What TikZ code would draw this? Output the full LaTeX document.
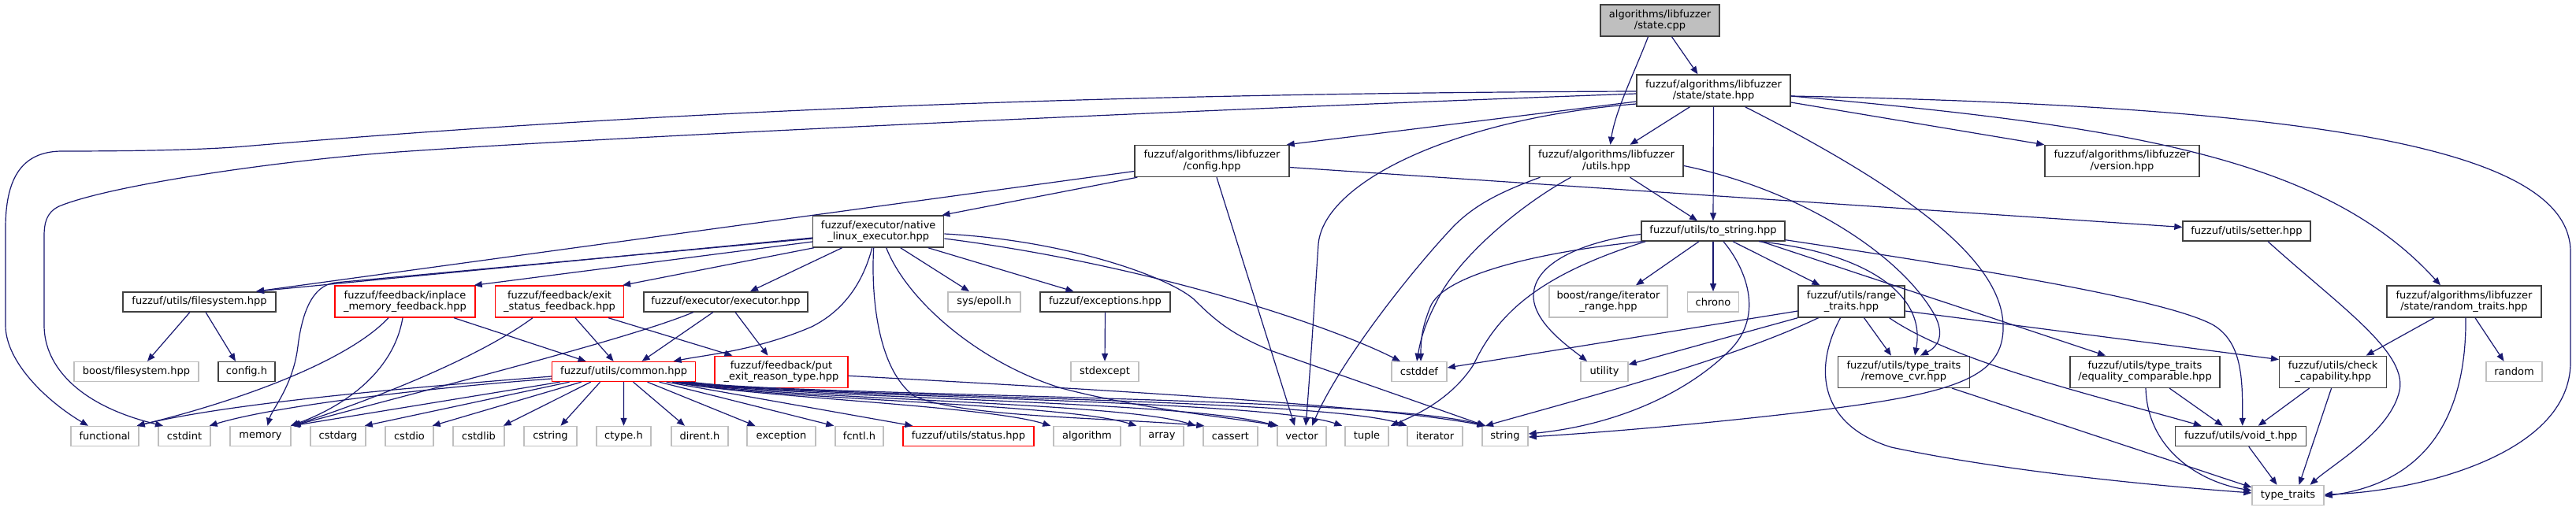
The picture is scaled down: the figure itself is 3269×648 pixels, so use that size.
\documentclass[tikz,border=0pt]{standalone}
\usepackage{fontspec}
\setmainfont{DejaVu Sans}
\usetikzlibrary{arrows.meta}
\definecolor{edgec}{HTML}{191970}
\definecolor{docc}{HTML}{404040}
\definecolor{extc}{HTML}{BFBFBF}
\definecolor{rootf}{HTML}{BFBFBF}
\begin{document}
\begin{tikzpicture}[x=1pt,y=-1pt,
  box/.style={draw, line width=1.4pt, inner sep=0pt, align=center, font=\fontsize{13}{14.5}\selectfont},
  doc/.style={box, draw=docc},
  ext/.style={box, draw=extc},
  trn/.style={box, draw=red},
  root/.style={box, draw=docc, fill=rootf},
  ln/.style={draw=edgec, line width=1.2pt, -{Triangle[length=10pt,width=8pt]}}]
\useasboundingbox (0,0) rectangle (3269,648);
% row 0-1
\node[root, minimum width=151, minimum height=40] (cpp) at (2106.5,26) {algorithms/libfuzzer\\/state.cpp};
\node[doc, minimum width=195, minimum height=40] (st) at (2174.5,115) {fuzzuf/algorithms/libfuzzer\\/state/state.hpp};
% row 2
\node[doc, minimum width=196, minimum height=40] (cfg) at (1538,204.5) {fuzzuf/algorithms/libfuzzer\\/config.hpp};
\node[doc, minimum width=195, minimum height=40] (ut) at (2038.5,204.5) {fuzzuf/algorithms/libfuzzer\\/utils.hpp};
\node[doc, minimum width=196, minimum height=40] (ver) at (2693,204.5) {fuzzuf/algorithms/libfuzzer\\/version.hpp};
% row 3
\node[doc, minimum width=166, minimum height=40] (nle) at (1114.7,294) {fuzzuf/executor/native\\\_linux\_executor.hpp};
\node[doc, minimum width=182, minimum height=25] (ts) at (2174,293.5) {fuzzuf/utils/to\_string.hpp};
\node[doc, minimum width=162, minimum height=25] (set) at (2851,293.5) {fuzzuf/utils/setter.hpp};
% row 4
\node[doc, minimum width=194, minimum height=25] (fs) at (253,383.3) {fuzzuf/utils/filesystem.hpp};
\node[trn, minimum width=178, minimum height=40] (inp) at (514,383) {fuzzuf/feedback/inplace\\\_memory\_feedback.hpp};
\node[trn, minimum width=163, minimum height=40] (exs) at (710,383) {fuzzuf/feedback/exit\\\_status\_feedback.hpp};
\node[doc, minimum width=208, minimum height=25] (exe) at (921,383.3) {fuzzuf/executor/executor.hpp};
\node[ext, minimum width=92, minimum height=25] (epl) at (1249,383.3) {sys/epoll.h};
\node[doc, minimum width=165, minimum height=25] (exc) at (1402.5,383.3) {fuzzuf/exceptions.hpp};
\node[ext, minimum width=150, minimum height=40] (ir) at (2041,383) {boost/range/iterator\\\_range.hpp};
\node[ext, minimum width=65, minimum height=25] (chr) at (2174,383.3) {chrono};
\node[doc, minimum width=135, minimum height=40] (rt) at (2349.5,383) {fuzzuf/utils/range\\\_traits.hpp};
\node[doc, minimum width=196, minimum height=40] (rnd) at (3127,383) {fuzzuf/algorithms/libfuzzer\\/state/random\_traits.hpp};
% row 5
\node[ext, minimum width=158, minimum height=25] (bfs) at (173,472) {boost/filesystem.hpp};
\node[doc, minimum width=72, minimum height=25] (cfh) at (313,472) {config.h};
\node[trn, minimum width=182, minimum height=25] (com) at (791.6,472) {fuzzuf/utils/common.hpp};
\node[trn, minimum width=169, minimum height=40] (put) at (991.5,472.3) {fuzzuf/feedback/put\\\_exit\_reason\_type.hpp};
\node[ext, minimum width=86, minimum height=25] (sx) at (1402,472) {stdexcept};
\node[ext, minimum width=70, minimum height=25] (csd) at (1801,472) {cstddef};
\node[ext, minimum width=60, minimum height=25] (uti) at (2036,472) {utility};
\node[doc, minimum width=167, minimum height=40] (rcvr) at (2416,472.3) {fuzzuf/utils/type\_traits\\/remove\_cvr.hpp};
\node[doc, minimum width=190, minimum height=40] (eq) at (2722,472.3) {fuzzuf/utils/type\_traits\\/equality\_comparable.hpp};
\node[doc, minimum width=136, minimum height=40] (cc) at (2960.6,472.3) {fuzzuf/utils/check\\\_capability.hpp};
\node[ext, minimum width=71, minimum height=25] (ran) at (3190.5,472) {random};
% row 6
\node[ext, minimum width=86, minimum height=25] (fun) at (133,554) {functional};
\node[ext, minimum width=66, minimum height=25] (cint) at (234,554) {cstdint};
\node[ext, minimum width=77, minimum height=25] (mem) at (330.5,554) {memory};
\node[ext, minimum width=70, minimum height=25] (cda) at (429,554) {cstdarg};
\node[ext, minimum width=61, minimum height=25] (cdo) at (519.5,554) {cstdio};
\node[ext, minimum width=65, minimum height=25] (cdl) at (607.5,554) {cstdlib};
\node[ext, minimum width=67, minimum height=25] (cst) at (698.5,554) {cstring};
\node[ext, minimum width=69, minimum height=25] (cty) at (791.5,554) {ctype.h};
\node[ext, minimum width=72, minimum height=25] (dir) at (888,554) {dirent.h};
\node[ext, minimum width=87, minimum height=25] (xcp) at (991.5,554) {exception};
\node[ext, minimum width=61, minimum height=25] (fcn) at (1090.5,554) {fcntl.h};
\node[trn, minimum width=166, minimum height=25] (sta) at (1229,554) {fuzzuf/utils/status.hpp};
\node[ext, minimum width=85, minimum height=25] (alg) at (1379.5,554) {algorithm};
\node[ext, minimum width=55, minimum height=25] (arr) at (1474.5,554) {array};
\node[ext, minimum width=69, minimum height=25] (cas) at (1561.5,554) {cassert};
\node[ext, minimum width=62, minimum height=25] (vec) at (1652,554) {vector};
\node[ext, minimum width=55, minimum height=25] (tup) at (1734.5,554) {tuple};
\node[ext, minimum width=70, minimum height=25] (itr) at (1821,554) {iterator};
\node[ext, minimum width=58, minimum height=25] (str) at (1910,554) {string};
\node[doc, minimum width=166, minimum height=25] (vt) at (2843.7,554) {fuzzuf/utils/void\_t.hpp};
\node[ext, minimum width=91, minimum height=25] (tt) at (2903.5,629) {type\_traits};

% ---- edges: root
\draw[ln] ([xshift=15pt]cpp.south) -- ([xshift=-20pt]st.north);
\draw[ln] ([xshift=-15pt]cpp.south) .. controls (2075,90) and (2050,140) .. ([xshift=5pt]ut.north);
% state.hpp
\draw[ln] ([yshift=-1pt]st.west) .. controls (1500,118) and (900,135) .. (309,186) .. controls (250,191) and (150,192) .. (77,192) .. controls (25,193) and (7,230) .. (7,290) -- (7,413) .. controls (7,460) and (60,510) .. ([xshift=-21pt]fun.north);
\draw[ln] ([yshift=-4pt]st.west) .. controls (1500,140) and (750,175) .. (491,194) .. controls (350,205) and (140,235) .. (75,262) .. controls (58,270) and (56,285) .. (56,300) -- (56,413) .. controls (56,465) and (100,515) .. ([xshift=-27pt]cint.north);
\draw[ln] ([yshift=-14pt]st.west) -- ([xshift=-4pt]cfg.north east);
\draw[ln] ([yshift=-17pt]st.west) .. controls (1850,150) and (1680,230) .. (1673,310) .. controls (1667,400) and (1662,480) .. ([xshift=5pt]vec.north);
\draw[ln] ([xshift=-30pt]st.south) -- ([xshift=30pt]ut.north);
\draw[ln] (st.south) -- (ts.north);
\draw[ln] ([xshift=40pt]st.south) .. controls (2420,240) and (2540,330) .. (2542,413) .. controls (2544,480) and (2480,500) .. (2300,522) .. controls (2150,540) and (2020,550) .. ([yshift=-1pt]str.east);
\draw[ln] ([yshift=-15pt]st.east) -- (ver.north west);
\draw[ln] ([yshift=-7pt]st.east) .. controls (2700,160) and (2950,200) .. ([xshift=-30pt]rnd.north);
\draw[ln] ([yshift=-7pt]st.east) .. controls (2950,135) and (3262,190) .. (3262,320) -- (3262,460) .. controls (3262,580) and (3060,625) .. ([yshift=1pt]tt.east);
% config.hpp
\draw[ln] ([yshift=-13pt]cfg.west) -- ([xshift=72pt]fs.north);
\draw[ln] ([xshift=4pt]cfg.south west) -- ([xshift=-3pt]nle.north east);
\draw[ln] ([xshift=6pt]cfg.south) -- ([xshift=-9pt]vec.north);
\draw[ln] ([yshift=-8pt]cfg.east) -- ([yshift=5pt]set.west);
% utils.hpp
\draw[ln] ([xshift=30pt]ut.south) -- ([xshift=-20pt]ts.north);
\draw[ln] ([xshift=-84pt]ut.south) .. controls (1900,245) and (1870,262) .. (1845,287) .. controls (1790,345) and (1700,460) .. ([xshift=13pt]vec.north);
\draw[ln] ([xshift=-45pt]ut.south) .. controls (1930,260) and (1860,320) .. (1830,370) .. controls (1808,410) and (1803,430) .. ([xshift=-3pt]csd.north);
\draw[ln] ([yshift=-6pt]ut.east) .. controls (2280,240) and (2410,320) .. (2455,400) .. controls (2468,425) and (2460,440) .. ([xshift=21pt]rcvr.north);
% native linux executor
\draw[ln] ([yshift=-8pt]nle.west) -- ([xshift=72pt]fs.north);
\draw[ln] ([yshift=-9pt]nle.west) -- (425,359) .. controls (395,363) and (383,400) .. (378,440) .. controls (372,490) and (345,520) .. ([xshift=9pt]mem.north);
\draw[ln] ([yshift=-13pt]nle.west) -- ([xshift=-2pt]inp.north east);
\draw[ln] ([xshift=2pt]nle.south west) -- ([xshift=-2pt]exs.north east);
\draw[ln] ([xshift=-46pt]nle.south) -- ([xshift=31pt]exe.north);
\draw[ln] ([xshift=-8pt]nle.south) .. controls (1095,360) and (1070,395) .. (1030,415) .. controls (960,445) and (900,450) .. ([xshift=63pt]com.north);
\draw[ln] ([xshift=28pt]nle.south) -- ([xshift=-19pt]epl.north);
\draw[ln] ([xshift=63pt]nle.south) -- ([xshift=-40pt]exc.north);
\draw[ln] ([yshift=-9pt]nle.east) .. controls (1450,335) and (1680,410) .. ([xshift=-24pt]csd.north);
\draw[ln] ([yshift=-3pt]nle.east) .. controls (1350,305) and (1480,350) .. (1515,380) .. controls (1545,410) and (1565,425) .. (1612,445) -- ([xshift=-25pt]str.north);
\draw[ln] ([xshift=-6pt]nle.south) .. controls (1105,380) and (1115,470) .. (1160,503) .. controls (1220,530) and (1400,530) .. ([xshift=2pt]cas.north west);
\draw[ln] ([xshift=10pt]nle.south) .. controls (1150,380) and (1240,460) .. (1347,493) .. controls (1450,520) and (1560,530) .. ([xshift=2pt]vec.north west);
% feedback / executor
\draw[ln] ([xshift=-21pt]inp.south) .. controls (440,460) and (300,510) .. ([xshift=-3pt]fun.north east);
\draw[ln] ([xshift=-3pt]inp.south) .. controls (500,470) and (440,515) .. ([xshift=-1pt]mem.north east);
\draw[ln] ([xshift=62pt]inp.south) -- ([xshift=-48pt]com.north);
\draw[ln] ([xshift=-34pt]exs.south) .. controls (600,460) and (450,515) .. ([xshift=1pt]mem.north east);
\draw[ln] ([xshift=20pt]exs.south) -- ([xshift=-13pt]com.north);
\draw[ln] ([xshift=62pt]exs.south) -- ([xshift=-62pt]put.north);
\draw[ln] ([xshift=-41pt]exe.south) .. controls (800,430) and (560,490) .. ([xshift=2pt]mem.north east);
\draw[ln] ([xshift=-16pt]exe.south) -- ([xshift=23pt]com.north);
\draw[ln] ([xshift=12pt]exe.south) -- ([xshift=-17pt]put.north);
\draw[ln] (exc.south) -- (sx.north);
\draw[ln] ([yshift=-5pt]put.east) .. controls (1400,495) and (1750,515) .. ([xshift=-25pt]str.north);
\draw[ln] ([xshift=-12pt]fs.south) -- ([xshift=14pt]bfs.north);
\draw[ln] ([xshift=8pt]fs.south) -- ([xshift=-14pt]cfh.north);
% common.hpp
\draw[ln] ([yshift=-6pt]com.west) .. controls (550,490) and (300,510) .. ([xshift=-3pt]fun.north east);
\draw[ln] ([yshift=-9pt]com.west) .. controls (550,492) and (350,515) .. ([xshift=-2pt]cint.north east);
\draw[ln] ([xshift=-81pt]com.south) -- ([xshift=1pt]mem.north east);
\draw[ln] ([xshift=-69pt]com.south) -- ([xshift=-2pt]cda.north east);
\draw[ln] ([xshift=-54pt]com.south) -- ([xshift=-2pt]cdo.north east);
\draw[ln] ([xshift=-42pt]com.south) -- ([xshift=-2pt]cdl.north east);
\draw[ln] ([xshift=-30pt]com.south) -- ([xshift=13pt]cst.north);
\draw[ln] (com.south) -- (cty.north);
\draw[ln] ([xshift=12pt]com.south) -- ([xshift=-19pt]dir.north);
\draw[ln] ([xshift=30pt]com.south) -- ([xshift=-33pt]xcp.north);
\draw[ln] ([xshift=45pt]com.south) -- ([xshift=-1pt]fcn.north west);
\draw[ln] ([xshift=54pt]com.south) -- ([xshift=13pt]sta.north west);
\draw[ln] ([xshift=-30pt]com.south east) .. controls (960,505) and (1250,515) .. ([xshift=-3pt]alg.north west);
\draw[ln] ([xshift=-26pt]com.south east) .. controls (980,508) and (1350,512) .. ([xshift=-4pt]arr.north west);
\draw[ln] ([xshift=-22pt]com.south east) .. controls (1000,508) and (1420,510) .. ([xshift=-9pt]cas.north west);
\draw[ln] ([xshift=-18pt]com.south east) .. controls (1000,506) and (1500,508) .. ([xshift=-1pt]vec.north west);
\draw[ln] ([xshift=-14pt]com.south east) .. controls (1000,505) and (1600,506) .. ([xshift=-3pt]tup.north west);
\draw[ln] ([xshift=-10pt]com.south east) .. controls (1000,504) and (1680,505) .. ([xshift=0pt]itr.north west);
\draw[ln] ([xshift=-6pt]com.south east) .. controls (1000,503) and (1750,503) .. ([xshift=4pt]str.north west);
% to_string.hpp
\draw[ln] ([xshift=-18pt]ts.south) -- ([xshift=35pt]ir.north);
\draw[ln] (ts.south) -- (chr.north);
\draw[ln] ([xshift=25pt]ts.south) -- ([xshift=-40pt]rt.north);
\draw[ln] ([xshift=13pt]ts.south) .. controls (2215,340) and (2240,400) .. (2195,445) .. controls (2140,500) and (2050,540) .. ([yshift=3pt]str.east);
\draw[ln] ([yshift=-4pt]ts.west) .. controls (2020,305) and (1945,330) .. (1946,377) .. controls (1947,410) and (1990,440) .. ([xshift=-22pt]uti.north);
\draw[ln] ([xshift=2pt]ts.south west) .. controls (1950,320) and (1830,350) .. (1815,390) .. controls (1805,415) and (1803,430) .. ([xshift=2pt]csd.north);
\draw[ln] ([xshift=6pt]ts.south west) .. controls (1950,350) and (1900,400) .. (1870,463) .. controls (1840,510) and (1790,530) .. ([xshift=2pt]tup.north east);
\draw[ln] ([xshift=58pt]ts.south) .. controls (2360,320) and (2445,370) .. ([xshift=14pt]rcvr.north);
\draw[ln] ([xshift=61pt]ts.south) -- ([xshift=-50pt]eq.north);
\draw[ln] ([yshift=2pt]ts.south east) .. controls (2500,340) and (2750,380) .. (2809,413) .. controls (2845,435) and (2846,480) .. ([xshift=2pt]vt.north);
% range_traits.hpp
\draw[ln] ([yshift=-12pt]rt.west) -- ([yshift=5pt]csd.east);
\draw[ln] (rt.south west) -- ([yshift=9pt]uti.east);
\draw[ln] ([xshift=-42pt]rt.south) .. controls (2200,455) and (2030,500) .. ([xshift=-25pt]str.north);
\draw[ln] ([xshift=-14pt]rt.south) .. controls (2300,470) and (2310,540) .. (2400,568) .. controls (2550,600) and (2750,618) .. ([yshift=3pt]tt.west);
\draw[ln] ([xshift=16pt]rt.south) -- ([xshift=-16pt]rcvr.north);
\draw[ln] ([xshift=48pt]rt.south) .. controls (2480,460) and (2650,500) .. ([xshift=-50pt]vt.north);
\draw[ln] ([yshift=-12pt]rt.east) -- ([yshift=-5pt]cc.north west);
% lower right
\draw[ln] ([xshift=61pt]rcvr.south) -- ([yshift=10pt]tt.west);
\draw[ln] ([xshift=1pt]eq.south) .. controls (2725,570) and (2790,612) .. ([yshift=6pt]tt.west);
\draw[ln] ([xshift=31pt]eq.south) -- ([xshift=-23pt]vt.north);
\draw[ln] ([xshift=-30pt]cc.south) -- ([xshift=22pt]vt.north);
\draw[ln] ([xshift=-2pt]cc.south) -- ([xshift=14pt]tt.north);
\draw[ln] ([xshift=10pt]vt.south) -- ([xshift=-14pt]tt.north);
\draw[ln] ([xshift=27pt]set.south) .. controls (2970,390) and (3060,450) .. (3044,500) .. controls (3030,550) and (2960,590) .. ([xshift=28pt]tt.north);
\draw[ln] ([xshift=-38pt]rnd.south) -- ([xshift=42pt]cc.north);
\draw[ln] ([xshift=14pt]rnd.south) -- ([xshift=-13pt]ran.north);
\draw[ln] ([xshift=2pt]rnd.south) .. controls (3130,500) and (3100,610) .. ([yshift=-1pt]tt.east);
\end{tikzpicture}
\end{document}
